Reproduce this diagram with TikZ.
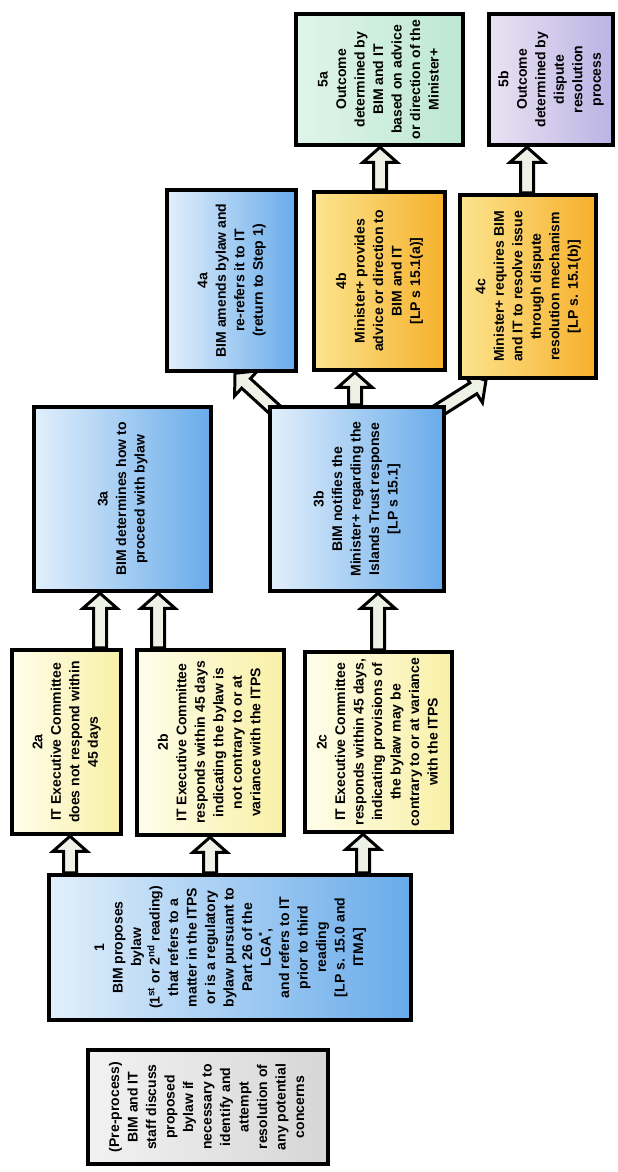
\documentclass[tikz,border=0pt]{standalone}
\usepackage{fontspec}
\setmainfont{Liberation Sans}
\usepackage{graphicx}
\usepackage{tikz}
\usetikzlibrary{calc, backgrounds}

\definecolor{bimblueL}{HTML}{E2EFFB}
\definecolor{bimblueR}{HTML}{68ABEA}
\definecolor{ityelL}{HTML}{FFFDEB}
\definecolor{ityelR}{HTML}{F8F0A6}
\definecolor{minorL}{HTML}{FCE48E}
\definecolor{minorR}{HTML}{F6B02C}
\definecolor{outmintL}{HTML}{E0F5EA}
\definecolor{outmintR}{HTML}{BDE7D2}
\definecolor{displavL}{HTML}{E9E3F3}
\definecolor{displavR}{HTML}{BBB3E4}
\definecolor{pregreyL}{HTML}{F2F2F2}
\definecolor{pregreyR}{HTML}{D6D6D6}
\definecolor{arrowfill}{HTML}{EEF2E6}

% text read from bottom to top
\newcommand{\vlines}[1]{\rotatebox{90}{\begin{tabular}{@{}c@{}}#1\end{tabular}}}
% hollow block arrow between two points
\newcommand{\blockarrow}[2]{%
  \coordinate (ba-s) at (#1);
  \coordinate (ba-e) at (#2);
  \coordinate (ba-h) at ($(ba-e)!15pt!(ba-s)$);
  \draw[fatarrow] ($(ba-s)!6.5pt!90:(ba-e)$) -- ($(ba-h)!6.5pt!90:(ba-e)$)
    -- ($(ba-h)!17pt!90:(ba-e)$) -- (ba-e) -- ($(ba-h)!17pt!-90:(ba-e)$)
    -- ($(ba-h)!6.5pt!-90:(ba-e)$) -- ($(ba-s)!6.5pt!-90:(ba-e)$) -- cycle;}

\begin{document}
\begin{tikzpicture}[
  x=1pt, y=-1pt,
  stage/.style={draw, line width=4.5pt, inner sep=0pt, font=\fontsize{14}{18.5}\selectfont\bfseries},
  bimbox/.style={stage, left color=bimblueL, right color=bimblueR},
  itbox/.style={stage, left color=ityelL, right color=ityelR},
  minbox/.style={stage, left color=minorL, right color=minorR},
  outbox/.style={stage, left color=outmintL, right color=outmintR},
  dispbox/.style={stage, left color=displavL, right color=displavR},
  prebox/.style={stage, left color=pregreyL, right color=pregreyR},
  fatarrow/.style={draw, line width=3pt, fill=arrowfill, line join=miter}
]
\useasboundingbox (0,0) rectangle (618,1172);

\node[prebox, minimum width=240pt, minimum height=114pt] (pre) at (208,1107)
  {\vlines{(Pre-process)\\ BIM and IT\\ staff discuss\\ proposed\\ bylaw if\\ necessary to\\ identify and\\ attempt\\ resolution of\\ any potential\\ concerns}};
\node[bimbox, minimum width=362pt, minimum height=145pt] (b1) at (230,947.5)
  {\vlines{1\\ BIM proposes\\ bylaw\\ (1\textsuperscript{st} or 2\textsuperscript{nd} reading)\\ that refers to a\\ matter in the ITPS\\ or is a regulatory\\ bylaw pursuant to\\ Part 26 of the\\ LGA\textsuperscript{*},\\ and refers to IT\\ prior to third\\ reading\\ {[LP s. 15.0 and}\\ ITMA]}};

\node[itbox, minimum width=109pt, minimum height=184pt] (b2a) at (66.5,742)
  {\vlines{2a\\ IT Executive Committee\\ does not respond within\\ 45 days}};
\node[itbox, minimum width=147pt, minimum height=185pt] (b2b) at (210.5,742.5)
  {\vlines{2b\\ IT Executive Committee\\ responds within 45 days\\ indicating the bylaw is\\ not contrary to or at\\ variance with the ITPS}};
\node[itbox, minimum width=147pt, minimum height=180pt] (b2c) at (378.5,742)
  {\vlines{2c\\ IT Executive Committee\\ responds within 45 days,\\ indicating provisions of\\ the bylaw may be\\ contrary to or at variance\\ with the ITPS}};

\node[bimbox, minimum width=177pt, minimum height=184pt] (b3a) at (122.5,499)
  {\vlines{3a\\ BIM determines how to\\ proceed with bylaw}};
\node[bimbox, minimum width=174pt, minimum height=184pt] (b3b) at (357,499)
  {\vlines{3b\\ BIM notifies the\\ Minister+ regarding the\\ Islands Trust response\\ {[LP s 15.1]}}};

\node[bimbox, minimum width=129pt, minimum height=181pt] (b4a) at (231.5,280.5)
  {\vlines{4a\\ BIM amends bylaw and\\ re-refers it to IT\\ (return to Step 1)}};
\node[minbox, minimum width=131pt, minimum height=178pt] (b4b) at (379.5,281)
  {\vlines{4b\\ Minister+ provides\\ advice or direction to\\ BIM and IT\\ {[LP s 15.1(a)]}}};
\node[minbox, minimum width=136pt, minimum height=183pt] (b4c) at (528,286.5)
  {\vlines{4c\\ Minister+ requires BIM\\ and IT to resolve issue\\ through dispute\\ resolution mechanism\\ {[LP s. 15.1(b)]}}};

\node[outbox, minimum width=167pt, minimum height=131pt] (b5a) at (379.5,79.5)
  {\vlines{5a\\ Outcome\\ determined by\\ BIM and IT\\ based on advice\\ or direction of the\\ Minister+}};
\node[dispbox, minimum width=124pt, minimum height=131pt] (b5b) at (551,79.5)
  {\vlines{5b\\ Outcome\\ determined by\\ dispute\\ resolution\\ process}};

\begin{scope}[on background layer]
  \blockarrow{b1.north -| 70,0}{b2a.south -| 70,0}
  \blockarrow{b1.north -| 210,0}{b2b.south -| 210,0}
  \blockarrow{b1.north -| 363,0}{b2c.south -| 363,0}
  \blockarrow{b2a.north -| 100,0}{b3a.south -| 100,0}
  \blockarrow{b2b.north -| 158,0}{b3a.south -| 158,0}
  \blockarrow{b2c.north -| 378,0}{b3b.south -| 378,0}
  \blockarrow{$(b3b.north -| 276,0)+(0,6)$}{b4a.south -| 235,0}
  \blockarrow{b3b.north -| 355,0}{b4b.south -| 355,0}
  \blockarrow{$(b3b.north -| 438,0)+(0,6)$}{b4c.south -| 486,0}
  \blockarrow{b4b.north -| 380,0}{b5a.south -| 380,0}
  \blockarrow{b4c.north -| 527,0}{b5b.south -| 527,0}
\end{scope}
\end{tikzpicture}
\end{document}
